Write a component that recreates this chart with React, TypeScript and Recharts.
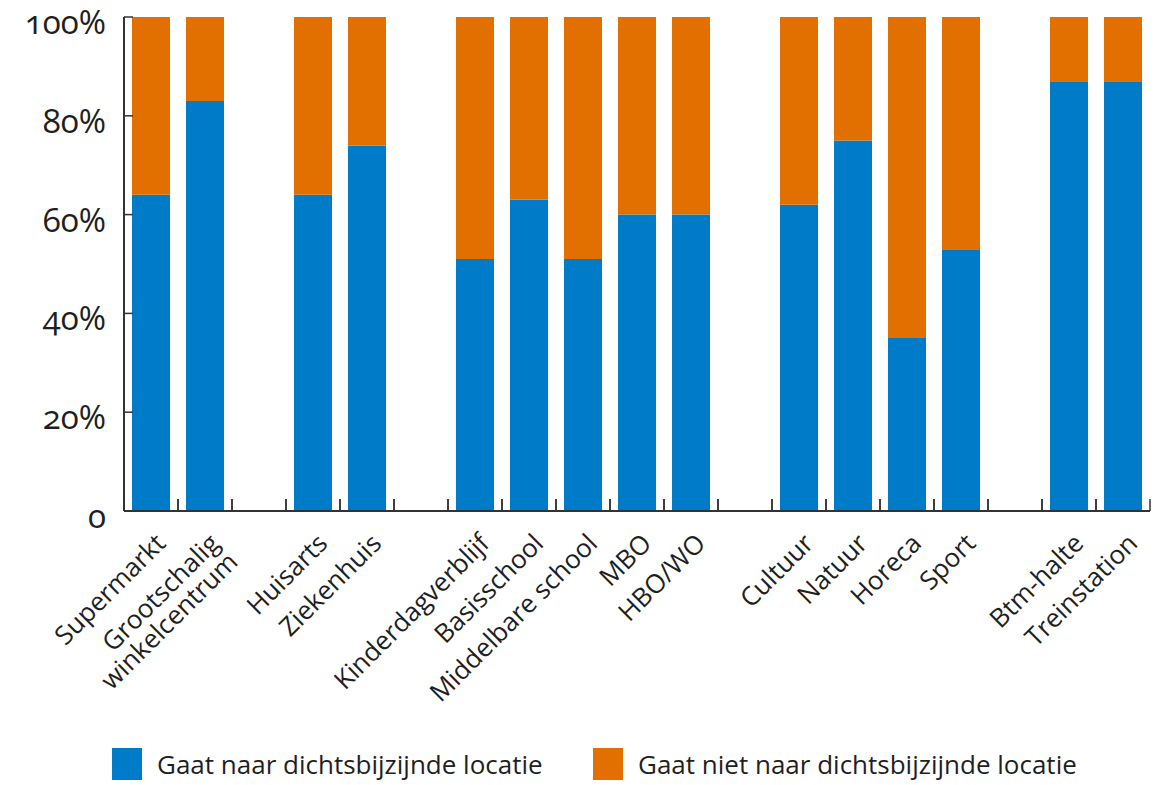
import React from "react";
import { BarChart, Bar, XAxis, YAxis, Legend } from "recharts";

const FONT = '"Open Sans", sans-serif';
const BLUE = "#007BC7";
const ORANGE = "#E17000";
const INK = "#1f1f1f";
const AXIS = "#333";

// empty strings are spacer slots between the groups
const categories = [
  "Supermarkt",
  "Grootschalig\nwinkelcentrum",
  "",
  "Huisarts",
  "Ziekenhuis",
  "",
  "Kinderdagverblijf",
  "Basisschool",
  "Middelbare school",
  "MBO",
  "HBO/WO",
  "",
  "Cultuur",
  "Natuur",
  "Horeca",
  "Sport",
  "",
  "Btm-halte",
  "Treinstation",
];

const nearest = [64, 83, null, 64, 74, null, 51, 63, 51, 60, 60, null, 62, 75, 35, 53, null, 87, 87];
const notNearest = [36, 17, null, 36, 26, null, 49, 37, 49, 40, 40, null, 38, 25, 65, 47, null, 13, 13];

const yTicks = [0, 20, 40, 60, 80, 100];

const seriesNames = {
  nearest: "Gaat naar dichtsbijzijnde locatie",
  notNearest: "Gaat niet naar dichtsbijzijnde locatie",
};

const data = categories.map((label, i) => ({
  key: i,
  label,
  nearest: nearest[i],
  notNearest: notNearest[i],
}));

// label plus short upward marks on both edges of the category band
const CategoryTick = ({ x, y, payload }: any) => {
  const label = categories[payload.value] || "";
  const half = payload.offset || 27;
  const lines = label ? label.split("\n") : [];
  return (
    <g>
      <line x1={x - half} x2={x - half} y1={y} y2={y - 12} stroke={AXIS} strokeWidth={1.5} />
      <line x1={x + half} x2={x + half} y1={y} y2={y - 12} stroke={AXIS} strokeWidth={1.5} />
      {label && (
        <g transform={`translate(${x + 16},${y + 34}) rotate(-45)`}>
          <text textAnchor="end" fontSize={26} fontFamily={FONT} fill={INK}>
            {lines.map((line, i) => (
              <tspan key={i} x={0} dy={i === 0 ? 0 : "1.0em"}>
                {line}
              </tspan>
            ))}
          </text>
        </g>
      )}
    </g>
  );
};

const PercentTick = ({ x, y, payload }: any) => {
  const v = payload.value;
  return (
    <g>
      <line x1={x} x2={x + 9} y1={y} y2={y} stroke={AXIS} strokeWidth={1.5} />
      <text
        x={x - 18}
        y={y + 17}
        textAnchor="end"
        fontSize={33}
        fontFamily={FONT}
        fill={INK}
        style={{ fontVariantNumeric: "oldstyle-nums" }}
      >
        {v === 0 ? "0" : `${v}%`}
      </text>
    </g>
  );
};

const LegendBox = () => (
  <div style={{ position: "relative", height: 40, fontFamily: FONT, fontSize: 26, color: INK }}>
    {[
      { color: BLUE, name: seriesNames.nearest, left: 112 },
      { color: ORANGE, name: seriesNames.notNearest, left: 593 },
    ].map((item) => (
      <div key={item.name} style={{ position: "absolute", left: item.left, top: 0, display: "flex", alignItems: "center" }}>
        <div style={{ width: 30, height: 32, background: item.color }} />
        <span style={{ marginLeft: 15, whiteSpace: "nowrap" }}>{item.name}</span>
      </div>
    ))}
  </div>
);

export default function App() {
  return (
    <div style={{ position: "absolute", left: 0, top: 0, background: "#fff" }}>
      <BarChart
        width={1176}
        height={785}
        data={data}
        margin={{ top: 17, right: 26, bottom: 0, left: 0 }}
      >
        <YAxis
          type="number"
          domain={[0, 100]}
          ticks={yTicks}
          width={124}
          tickSize={0}
          tickMargin={0}
          tickLine={false}
          axisLine={{ stroke: AXIS, strokeWidth: 2 }}
          tick={<PercentTick />}
        />
        <XAxis
          dataKey="key"
          height={214}
          interval={0}
          tickSize={0}
          tickMargin={0}
          tickLine={false}
          axisLine={{ stroke: AXIS, strokeWidth: 2 }}
          tick={<CategoryTick />}
        />
        <Bar
          dataKey="nearest"
          name={seriesNames.nearest}
          stackId="a"
          fill={BLUE}
          barSize={38}
          isAnimationActive={false}
        />
        <Bar
          dataKey="notNearest"
          name={seriesNames.notNearest}
          stackId="a"
          fill={ORANGE}
          barSize={38}
          isAnimationActive={false}
        />
        <Legend
          verticalAlign="bottom"
          height={60}
          wrapperStyle={{ top: 746, bottom: "auto", left: 0, width: 1176 }}
          content={<LegendBox />}
        />
      </BarChart>
    </div>
  );
}
